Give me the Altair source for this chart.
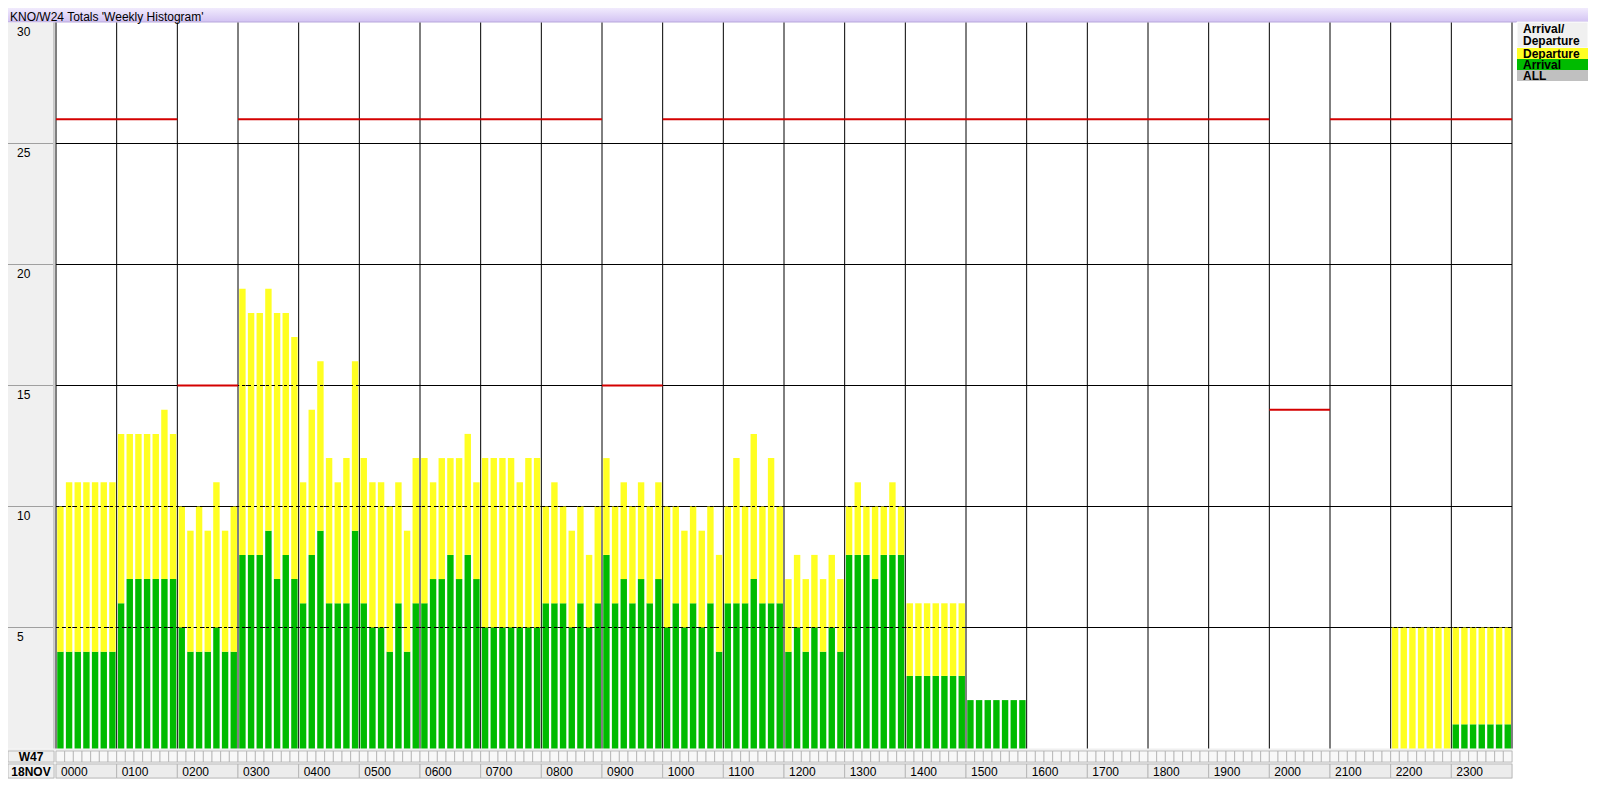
import altair as alt
import pandas as pd

# ---------------- data ----------------
HOURS = ["0000", "0100", "0200", "0300", "0400", "0500", "0600", "0700",
         "0800", "0900", "1000", "1100", "1200", "1300", "1400", "1500",
         "1600", "1700", "1800", "1900", "2000", "2100", "2200", "2300"]

# 7 daily bars per hour (weekly histogram)
ARRIVALS = [
    [4, 4, 4, 4, 4, 4, 4],
    [6, 7, 7, 7, 7, 7, 7],
    [5, 4, 4, 4, 5, 4, 4],
    [8, 8, 8, 9, 7, 8, 7],
    [6, 8, 9, 6, 6, 6, 9],
    [6, 5, 5, 4, 6, 4, 6],
    [6, 7, 7, 8, 7, 8, 7],
    [5, 5, 5, 5, 5, 5, 5],
    [6, 6, 6, 5, 6, 5, 6],
    [8, 6, 7, 6, 7, 6, 7],
    [5, 6, 5, 6, 5, 6, 4],
    [6, 6, 6, 7, 6, 6, 6],
    [4, 5, 4, 5, 4, 5, 4],
    [8, 8, 8, 7, 8, 8, 8],
    [3, 3, 3, 3, 3, 3, 3],
    [2, 2, 2, 2, 2, 2, 2],
    [0, 0, 0, 0, 0, 0, 0],
    [0, 0, 0, 0, 0, 0, 0],
    [0, 0, 0, 0, 0, 0, 0],
    [0, 0, 0, 0, 0, 0, 0],
    [0, 0, 0, 0, 0, 0, 0],
    [0, 0, 0, 0, 0, 0, 0],
    [0, 0, 0, 0, 0, 0, 0],
    [1, 1, 1, 1, 1, 1, 1],
]
DEPARTURES = [
    [6, 7, 7, 7, 7, 7, 7],
    [7, 6, 6, 6, 6, 7, 6],
    [5, 5, 6, 5, 6, 5, 6],
    [11, 10, 10, 10, 11, 10, 10],
    [5, 6, 7, 6, 5, 6, 7],
    [6, 6, 6, 6, 5, 5, 6],
    [6, 4, 5, 4, 5, 5, 4],
    [7, 7, 7, 7, 6, 7, 7],
    [4, 5, 4, 4, 4, 3, 4],
    [4, 4, 4, 4, 4, 4, 4],
    [5, 4, 4, 4, 4, 4, 4],
    [4, 6, 4, 6, 4, 6, 4],
    [3, 3, 3, 3, 3, 3, 3],
    [2, 3, 2, 3, 2, 3, 2],
    [3, 3, 3, 3, 3, 3, 3],
    [0, 0, 0, 0, 0, 0, 0],
    [0, 0, 0, 0, 0, 0, 0],
    [0, 0, 0, 0, 0, 0, 0],
    [0, 0, 0, 0, 0, 0, 0],
    [0, 0, 0, 0, 0, 0, 0],
    [0, 0, 0, 0, 0, 0, 0],
    [0, 0, 0, 0, 0, 0, 0],
    [5, 5, 5, 5, 5, 5, 5],
    [4, 4, 4, 4, 4, 4, 4],
]
CAPACITY = [26, 26, 15, 26, 26, 26, 26, 26, 26, 15, 26, 26,
            26, 26, 26, 26, 26, 26, 26, 26, 14, 26, 26, 26]
Y_LABELS = [30, 25, 20, 15, 10, 5]
GRID_VALUES = [5, 10, 15, 20, 25]
TITLE = "KNO/W24 Totals 'Weekly Histogram'"
WEEK_LABEL = "W47"
DATE_LABEL = "18NOV"
LEGEND_HEADER = ["Arrival/", "Departure"]
LEGEND_ITEMS = ["Departure", "Arrival", "ALL"]

# ---------------- styling / layout ----------------
YEL, GRN, GRY, RED = "#ffff22", "#00bb00", "#c0c0c0", "#d40000"
LEGEND_COLORS = [YEL, GRN, GRY]
FONT = "Liberation Sans"
W, H = 1580, 771
PX0, PX1 = 48, 1504          # plot area x (pixels)
PY0, PY1 = 740.5, 14.5       # y pixel of value 0 and value 30
NS = 7                       # bars per hour
xs = alt.Scale(domain=[0, 24 * NS], range=[PX0, PX1], nice=False, zero=False)
ys = alt.Scale(domain=[0, 30], range=[PY0, PY1], nice=False, zero=False)

one = pd.DataFrame({"k": [0]})


def box(x0, x1, y0, y1, **kw):
    return alt.Chart(one).mark_rect(**kw).encode(
        x=alt.value(x0), x2=alt.value(x1), y=alt.value(y0), y2=alt.value(y1))


def txt(x, y, s, **kw):
    return alt.Chart(pd.DataFrame({"t": [s]})).mark_text(font=FONT, **kw).encode(
        x=alt.value(x), y=alt.value(y), text="t:N")


# bars table
rows = []
for h in range(24):
    for d in range(NS):
        s = h * NS + d
        a = ARRIVALS[h][d]
        dep = DEPARTURES[h][d]
        if a > 0:
            rows.append(dict(x0=s + 0.14, x1=s + 0.88, y0=0, y1=a, series="Arrival"))
        if dep > 0:
            rows.append(dict(x0=s + 0.14, x1=s + 0.88, y0=a, y1=a + dep, series="Departure"))
bars_df = pd.DataFrame(rows)

hour_df = pd.DataFrame({"hx": [h * NS for h in range(25)]})
grid_df = pd.DataFrame({"g": GRID_VALUES})
ylab_df = pd.DataFrame({"v": Y_LABELS, "t": [str(v) for v in Y_LABELS]})
cap_df = pd.DataFrame({"c0": [h * NS for h in range(24)],
                       "c1": [(h + 1) * NS for h in range(24)],
                       "cap": CAPACITY})
slot_df = pd.DataFrame({"s0": list(range(24 * NS)), "s1": [i + 1 for i in range(24 * NS)]})
hl_df = pd.DataFrame({"h0": [h * NS for h in range(24)],
                      "h1": [(h + 1) * NS for h in range(24)],
                      "lab": HOURS})

layers = []

# backgrounds
title_grad = alt.LinearGradient(
    gradient="linear",
    stops=[alt.GradientStop(color="#f1ebfd", offset=0),
           alt.GradientStop(color="#d3c3f3", offset=1)],
    x1=0, x2=0, y1=0, y2=1)
layers.append(box(0, W, 0, 14, color=title_grad))
layers.append(box(0, W, 13.5, 14.5, color="#b8a8dc"))
layers.append(box(0, 46, 14.5, PY0, color="#f0f0f0"))
layers.append(box(0, PX1 + 1, PY0, H, color="#f0f0f0"))
layers.append(box(45.5, 46.5, 14.5, PY0, color="#a0a0a0"))

# solid grid
layers.append(alt.Chart(grid_df).mark_rule(color="black", strokeWidth=1).encode(
    y=alt.Y("g:Q", scale=ys, axis=None), x=alt.value(PX0), x2=alt.value(PX1)))
layers.append(alt.Chart(hour_df).mark_rule(color="black", strokeWidth=1).encode(
    x=alt.X("hx:Q", scale=xs, axis=None), y=alt.value(PY1), y2=alt.value(PY0)))

# bars
layers.append(alt.Chart(bars_df).mark_rect().encode(
    x=alt.X("x0:Q", scale=xs, axis=None), x2="x1:Q",
    y=alt.Y("y0:Q", scale=ys, axis=None), y2="y1:Q",
    color=alt.Color("series:N", scale=alt.Scale(domain=["Departure", "Arrival"], range=[YEL, GRN]),
                    legend=None)))

# dashed grid over bars
layers.append(alt.Chart(grid_df).mark_rule(color="black", strokeWidth=1, strokeDash=[3, 3]).encode(
    y=alt.Y("g:Q", scale=ys, axis=None), x=alt.value(PX0), x2=alt.value(PX1)))

# capacity lines
layers.append(alt.Chart(cap_df).mark_rule(color=RED, strokeWidth=2).encode(
    x=alt.X("c0:Q", scale=xs, axis=None), x2="c1:Q",
    y=alt.Y("cap:Q", scale=ys, axis=None)))

# left axis separators and labels
layers.append(alt.Chart(grid_df).mark_rule(color="#a0a0a0", strokeWidth=1).encode(
    y=alt.Y("g:Q", scale=ys, axis=None), x=alt.value(0), x2=alt.value(45)))
layers.append(alt.Chart(ylab_df).mark_text(font=FONT, fontSize=12, align="left", baseline="top",
                                           dy=4, color="black").encode(
    y=alt.Y("v:Q", scale=ys, axis=None), x=alt.value(9), text="t:N"))

# bottom strip: slot boxes and hour label boxes
layers.append(alt.Chart(slot_df).mark_rect(fill="#f8f8f8", stroke="#b0b0b0", strokeWidth=0.8).encode(
    x=alt.X("s0:Q", scale=xs, axis=None), x2="s1:Q", y=alt.value(743), y2=alt.value(754)))
layers.append(alt.Chart(hl_df).mark_rect(fill="#ececec", stroke="#b0b0b0", strokeWidth=0.8).encode(
    x=alt.X("h0:Q", scale=xs, axis=None), x2="h1:Q", y=alt.value(756), y2=alt.value(770)))
layers.append(alt.Chart(hl_df).mark_text(font=FONT, fontSize=12, align="left", baseline="middle",
                                         dx=5, color="black").encode(
    x=alt.X("h0:Q", scale=xs, axis=None), y=alt.value(763.5), text="lab:N"))
layers.append(box(0, 46, 743, 754, fill="#f0f0f0", stroke="#b0b0b0", strokeWidth=0.8))
layers.append(box(0, 46, 756, 770, fill="#f0f0f0", stroke="#b0b0b0", strokeWidth=0.8))
layers.append(txt(23, 749, WEEK_LABEL, fontSize=12, fontWeight="bold", align="center",
                  baseline="middle"))
layers.append(txt(23, 763.5, DATE_LABEL, fontSize=12, fontWeight="bold", align="center",
                  baseline="middle"))

# title text
layers.append(txt(2, 7.5, TITLE, fontSize=12, align="left", baseline="middle", dy=1))

# legend panel
LX0, LX1 = 1509, 1580
layers.append(box(LX0, LX1, 14, 40, fill="#f0f0f0", stroke="#ffffff", strokeWidth=1))
layers.append(txt(LX0 + 6, 21, LEGEND_HEADER[0], fontSize=12, fontWeight="bold", align="left",
                  baseline="middle"))
layers.append(txt(LX0 + 6, 33, LEGEND_HEADER[1], fontSize=12, fontWeight="bold", align="left",
                  baseline="middle"))
leg_tops = [40, 51, 62]
leg_bots = [51, 62, 73]
for name, col, t0, t1 in zip(LEGEND_ITEMS, LEGEND_COLORS, leg_tops, leg_bots):
    layers.append(box(LX0, LX1, t0, t1, color=col))
    layers.append(txt(LX0 + 6, (t0 + t1) / 2 + 0.5, name, fontSize=12, fontWeight="bold",
                      align="left", baseline="middle"))

chart = alt.layer(*layers).properties(
    width=W, height=H, autosize=alt.AutoSizeParams(type="none"), padding=0,
    background="white",
).configure_view(strokeWidth=0)

chart.save("out.html", embed_options={"renderer": "svg", "actions": False})
